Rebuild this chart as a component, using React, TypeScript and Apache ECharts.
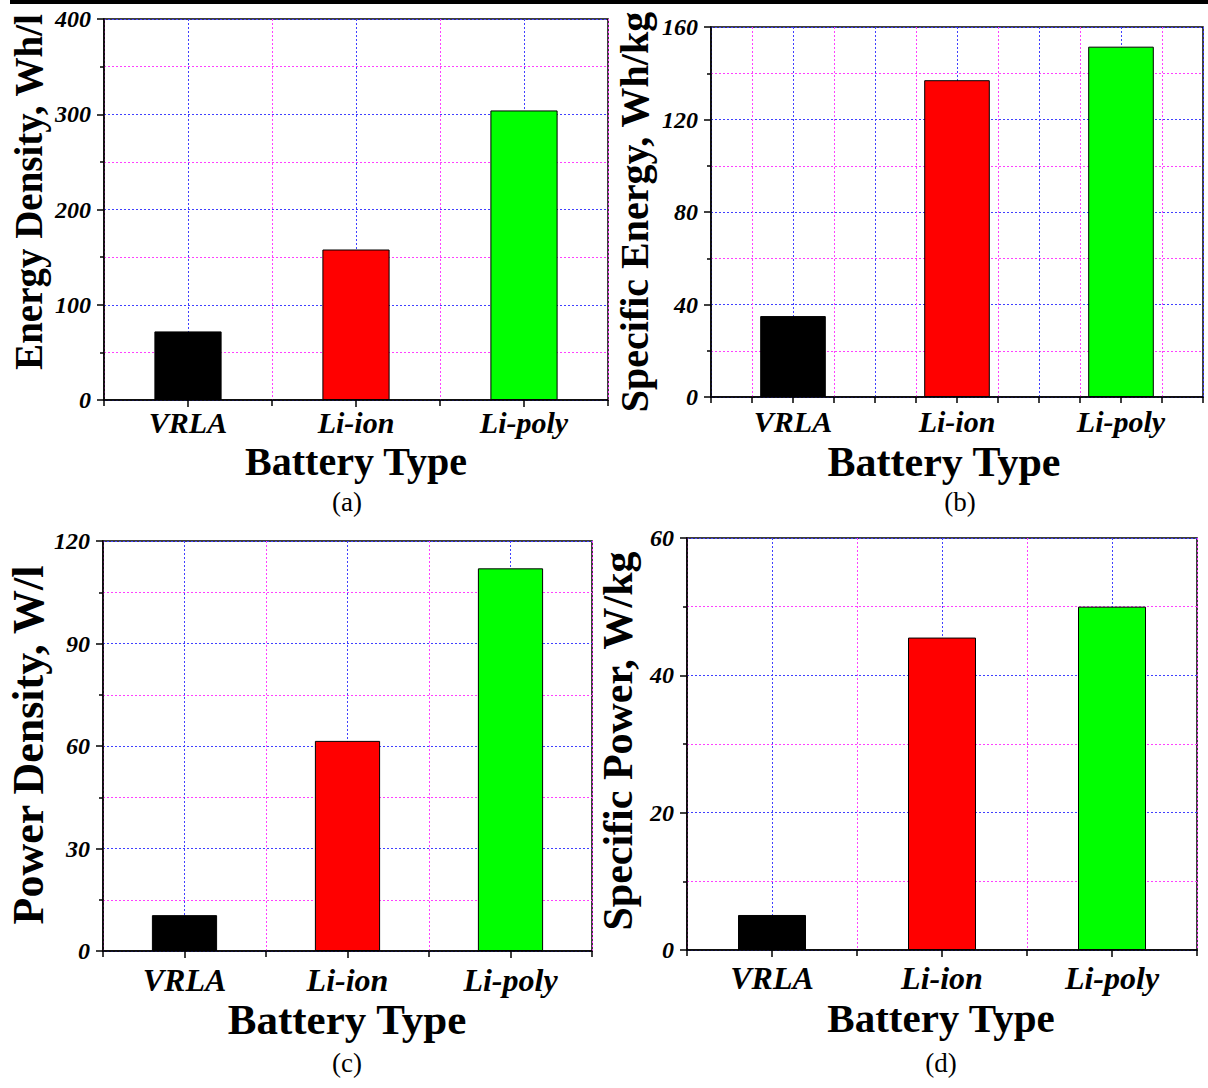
import React, { useEffect, useRef } from "react";
import * as echarts from "echarts";

const categories = ["VRLA", "Li-ion", "Li-poly"];
const energyDensity = [72, 158, 304];
const specificEnergy = [35, 137, 151.5];
const powerDensity = [10.5, 61.5, 112];
const specificPower = [5.1, 45.5, 50];
const barColors = ["#000000", "#ff0000", "#00ff00"];

const yTitles = ["Energy Density, Wh/l", "Specific Energy, Wh/kg", "Power Density, W/l", "Specific Power, W/kg"];
const xTitle = "Battery Type";
const panelLetters = ["(a)", "(b)", "(c)", "(d)"];

const SERIF = "'Liberation Serif', 'Times New Roman', serif";
const BLUE = "#4040ff";
const MAGENTA = "#ff40ff";
const DOT = [2, 2];

const panels = [
  { values: energyDensity, max: 400, interval: 100, left: 104, top: 19, width: 504, height: 381, labelGap: 22, labelSize: 30, fine: false,
    yt: { x: 28, y: 192, size: 39 }, xt: { x: 356, y: 461, size: 40 }, pl: { x: 347, y: 502 } },
  { values: specificEnergy, max: 160, interval: 40, left: 711, top: 27, width: 492, height: 370, labelGap: 24, labelSize: 30, fine: true,
    yt: { x: 634, y: 212, size: 40 }, xt: { x: 944, y: 462, size: 42 }, pl: { x: 960, y: 502 } },
  { values: powerDensity, max: 120, interval: 30, left: 103, top: 541, width: 489, height: 410, labelGap: 29, labelSize: 32, fine: false,
    yt: { x: 28, y: 745, size: 44 }, xt: { x: 347, y: 1019, size: 43 }, pl: { x: 347, y: 1063 } },
  { values: specificPower, max: 60, interval: 20, left: 687, top: 538, width: 510, height: 412, labelGap: 28, labelSize: 32, fine: false,
    yt: { x: 618, y: 741, size: 42 }, xt: { x: 941, y: 1018, size: 41 }, pl: { x: 941, y: 1063 } },
];

export default function App() {
  const ref = useRef<HTMLDivElement>(null);
  useEffect(() => {
    if (!ref.current) return;
    const chart = echarts.init(ref.current, null, { renderer: "svg" });
    const axisLineStyle = { color: "#000", width: 1.5 };
    const grid: any[] = [];
    const xAxis: any[] = [];
    const yAxis: any[] = [];
    const series: any[] = [];
    const graphic: any[] = [
      { type: "rect", shape: { x: 10, y: 0, width: 1198, height: 4 }, style: { fill: "#000" } },
    ];
    panels.forEach((p, i) => {
      grid.push({ left: p.left, top: p.top, width: p.width, height: p.height, show: true, borderColor: "#000", borderWidth: 1.5, backgroundColor: "transparent" });
      xAxis.push({
        type: "category", gridIndex: i, position: "bottom", data: categories,
        axisLine: { show: false }, axisTick: { show: false }, splitLine: { show: false },
        axisLabel: { margin: p.labelGap, verticalAlign: "middle", fontFamily: SERIF, fontWeight: "bold", fontStyle: "italic", fontSize: p.labelSize, color: "#000" },
      });
      xAxis.push({
        type: "value", gridIndex: i, position: "bottom", min: 0, max: 3, interval: p.fine ? 0.5 : 1,
        axisLine: { show: true, onZero: false, lineStyle: axisLineStyle },
        axisTick: { show: true, inside: false, length: 6, lineStyle: axisLineStyle },
        minorTick: { show: true, splitNumber: 2, length: p.fine ? 6 : 7, lineStyle: axisLineStyle },
        axisLabel: { show: false },
        splitLine: { show: true, lineStyle: { color: p.fine ? BLUE : MAGENTA, type: DOT, width: 1 } },
        minorSplitLine: { show: true, lineStyle: { color: p.fine ? MAGENTA : BLUE, type: DOT, width: 1 } },
      });
      yAxis.push({
        type: "value", gridIndex: i, min: 0, max: p.max, interval: p.interval,
        axisLine: { show: true, lineStyle: axisLineStyle },
        axisTick: { show: true, inside: false, length: 7, lineStyle: axisLineStyle },
        minorTick: { show: true, splitNumber: 2, length: 4, lineStyle: axisLineStyle },
        splitLine: { show: true, lineStyle: { color: BLUE, type: DOT, width: 1 } },
        minorSplitLine: { show: true, lineStyle: { color: MAGENTA, type: DOT, width: 1 } },
        axisLabel: { margin: 13, fontFamily: SERIF, fontWeight: "bold", fontStyle: "italic", fontSize: 24, color: "#000" },
      });
      series.push({
        type: "bar", xAxisIndex: i * 2, yAxisIndex: i, barWidth: "40%",
        data: p.values.map((v, k) => ({ value: v, itemStyle: { color: barColors[k], borderColor: "#000", borderWidth: 1 } })),
      });
      graphic.push({
        type: "text", x: p.yt.x, y: p.yt.y, rotation: Math.PI / 2,
        style: { text: yTitles[i], font: `bold ${p.yt.size}px ${SERIF}`, fill: "#000", align: "center", verticalAlign: "middle", textAlign: "center", textVerticalAlign: "middle" },
      });
      graphic.push({
        type: "text", x: p.xt.x, y: p.xt.y,
        style: { text: xTitle, font: `bold ${p.xt.size}px ${SERIF}`, fill: "#000", align: "center", verticalAlign: "middle", textAlign: "center", textVerticalAlign: "middle" },
      });
      graphic.push({
        type: "text", x: p.pl.x, y: p.pl.y,
        style: { text: panelLetters[i], font: `27px ${SERIF}`, fill: "#000", align: "center", verticalAlign: "middle", textAlign: "center", textVerticalAlign: "middle" },
      });
    });
    chart.setOption({ animation: false, backgroundColor: "#fff", grid, xAxis, yAxis, series, graphic });
    return () => chart.dispose();
  }, []);
  return <div ref={ref} style={{ position: "absolute", left: 0, top: 0, width: 1208, height: 1088 }} />;
}
